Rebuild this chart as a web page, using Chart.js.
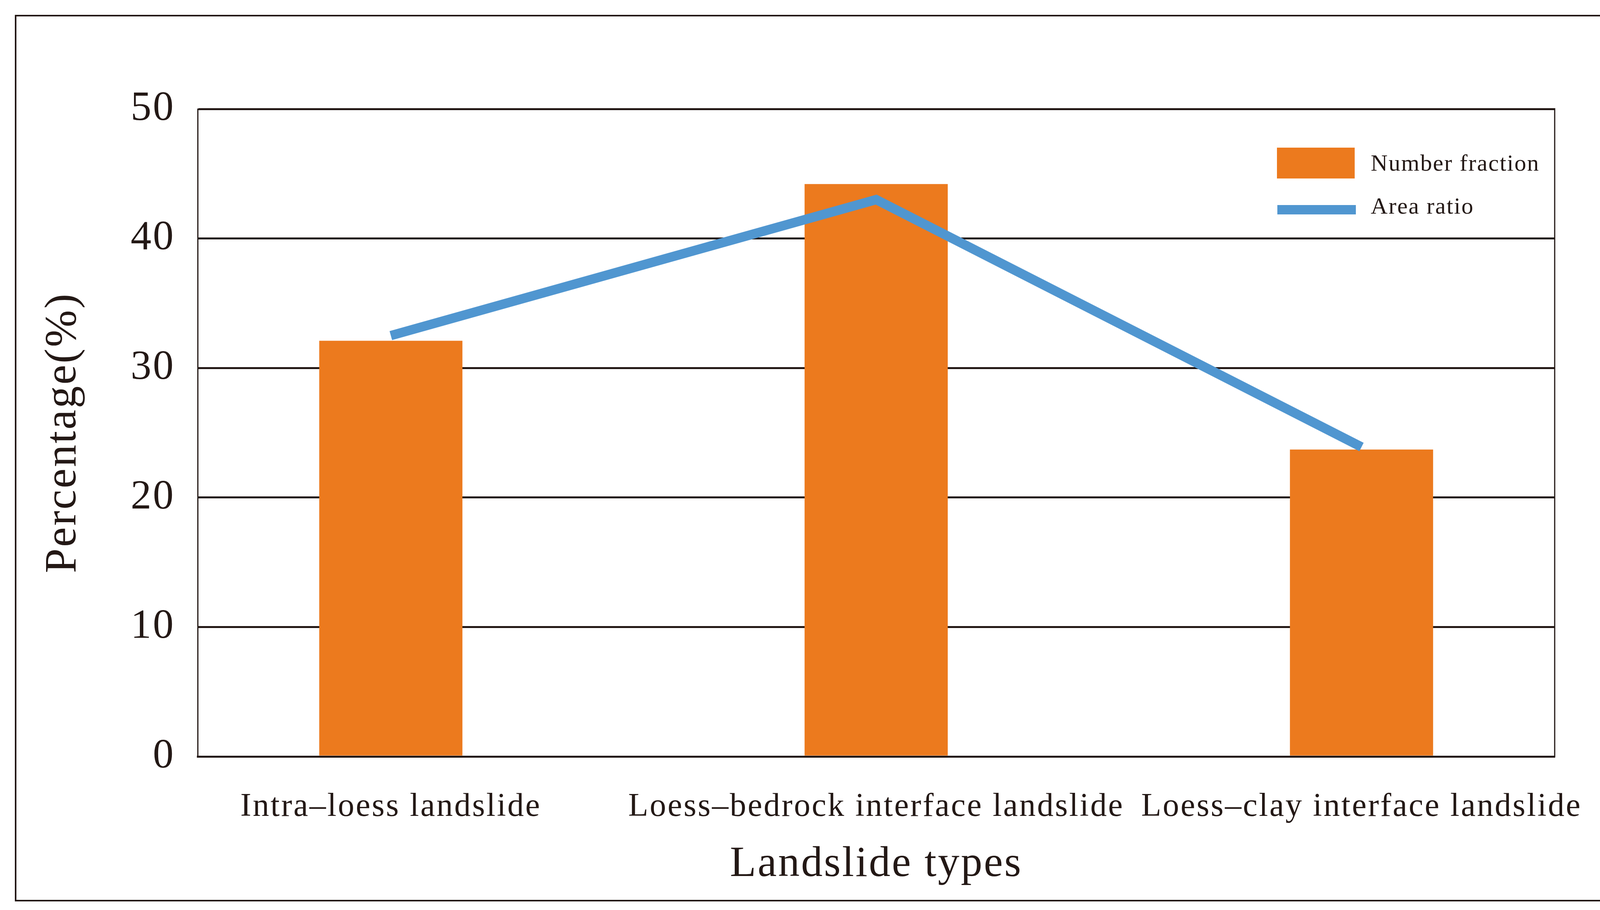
<!DOCTYPE html>
<html>
<head>
<meta charset="utf-8">
<script src="https://cdn.jsdelivr.net/npm/chart.js@4/dist/chart.umd.min.js"></script>
<style>
html,body{margin:0;padding:0;background:#fff;}
#wrap{position:relative;width:4433px;height:2330px;overflow:hidden;background:#fff;}
#frame{position:absolute;left:38px;top:38px;width:4362px;height:2270px;border:4px solid #231815;box-sizing:border-box;pointer-events:none;}
.sw{position:absolute;}
.lt{position:absolute;font-family:"Liberation Serif","Times New Roman",serif;font-size:60px;line-height:80px;height:80px;color:#231815;letter-spacing:2.3px;white-space:nowrap;}
</style>
</head>
<body>
<div id="wrap">
  <canvas id="c" width="4433" height="2330"></canvas>
  <div id="frame"></div>
  <div id="legend"></div>
</div>
<script>
const categories = ['Intra\u2013loess landslide', 'Loess\u2013bedrock interface landslide', 'Loess\u2013clay interface landslide'];
const numberFraction = [32.1, 44.2, 23.7];
const areaRatio = [32.5, 43.0, 23.9];
const yTickValues = [0, 10, 20, 30, 40, 50];

const INK = '#231815';
const ORANGE = '#EC7A1E';
const BLUE = '#5096D0';
const FONT = 'Liberation Serif';

const plotFrame = {
  id: 'plotFrame',
  beforeDraw(chart) {
    chart.ctx.letterSpacing = '3.7px';
  },
  beforeDatasetsDraw(chart) {
    const {ctx, chartArea: a} = chart;
    ctx.save();
    ctx.strokeStyle = INK;
    ctx.lineWidth = 3;
    ctx.beginPath();
    ctx.moveTo(a.right, a.top - 2);
    ctx.lineTo(a.right, a.bottom + 2);
    ctx.stroke();
    ctx.restore();
  }
};

const chart = new Chart(document.getElementById('c'), {
  type: 'bar',
  data: {
    datasets: [
      {
        type: 'line',
        label: 'Area ratio',
        data: categories.map((c, i) => ({x: i, y: areaRatio[i]})),
        borderColor: BLUE,
        backgroundColor: BLUE,
        borderWidth: 24,
        pointRadius: 0,
        tension: 0,
        borderJoinStyle: 'miter',
        borderCapStyle: 'butt',
        order: 0
      },
      {
        type: 'bar',
        label: 'Number fraction',
        data: categories.map((c, i) => ({x: i, y: numberFraction[i]})),
        backgroundColor: ORANGE,
        borderWidth: 0,
        categoryPercentage: 1,
        barPercentage: 0.295,
        order: 1
      }
    ]
  },
  options: {
    responsive: false,
    devicePixelRatio: 1,
    animation: false,
    layout: {padding: {left: 40, right: 453, top: 279, bottom: 20}},
    plugins: {legend: {display: false}, tooltip: {enabled: false}},
    scales: {
      x: {
        type: 'linear',
        offset: false,
        min: -0.398,
        max: 2.398,
        afterBuildTicks: (s) => { s.ticks = categories.map((c, i) => ({value: i})); },
        afterFit: (s) => { s.height = 373; },
        grid: {display: false, drawTicks: false, offset: false},
        border: {display: true, color: INK, width: 5},
        ticks: {
          autoSkip: false,
          maxRotation: 0,
          padding: 80,
          color: INK,
          font: {family: FONT, size: 84},
          callback: (v) => categories[v]
        },
        title: {
          display: true,
          text: 'Landslide types',
          color: INK,
          font: {family: FONT, size: 110},
          padding: {top: 25, bottom: 30}
        }
      },
      y: {
        min: 0,
        max: 50,
        afterBuildTicks: (s) => { s.ticks = yTickValues.map(v => ({value: v})); },
        afterFit: (s) => { s.width = 466; },
        grid: {color: INK, lineWidth: 5, drawTicks: false},
        border: {display: true, color: INK, width: 3},
        ticks: {
          padding: 58,
          color: INK,
          font: {family: FONT, size: 106}
        },
        title: {
          display: true,
          text: 'Percentage(%)',
          color: INK,
          font: {family: FONT, size: 114},
          padding: {top: 55, bottom: 10}
        }
      }
    }
  },
  plugins: [plotFrame]
});

// HTML legend built from the chart's datasets
const legendSpec = [
  {ds: 1, sw: {left: 3269, top: 378, width: 199, height: 79}, textTop: 377},
  {ds: 0, sw: {left: 3270, top: 525, width: 201, height: 24}, textTop: 487}
];
const legendEl = document.getElementById('legend');
legendSpec.forEach(item => {
  const ds = chart.data.datasets[item.ds];
  const sw = document.createElement('div');
  sw.className = 'sw';
  Object.assign(sw.style, {
    left: item.sw.left + 'px', top: item.sw.top + 'px',
    width: item.sw.width + 'px', height: item.sw.height + 'px',
    background: ds.type === 'line' ? ds.borderColor : ds.backgroundColor
  });
  const t = document.createElement('div');
  t.className = 'lt';
  t.style.left = '3509px';
  t.style.top = item.textTop + 'px';
  t.textContent = ds.label;
  legendEl.appendChild(sw);
  legendEl.appendChild(t);
});
</script>
</body>
</html>
